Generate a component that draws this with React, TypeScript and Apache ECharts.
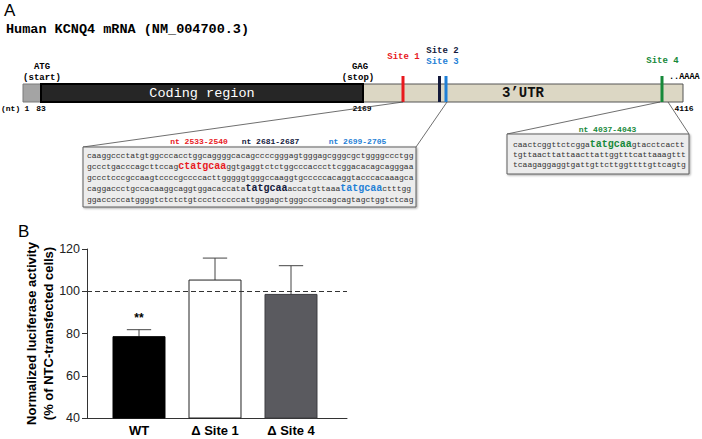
import React, { useEffect, useRef } from 'react';
import * as echarts from 'echarts';

// ---------- Panel B data ----------
const categories = ['WT', 'Δ Site 1', 'Δ Site 4'];
const meanActivity = [78.5, 105.3, 98.5];
const semActivity = [3.3, 10.4, 13.6];
const significance = ['**', '', ''];
const yTicks = [40, 60, 80, 100, 120];
const referenceLevel = 100;

// ---------- Panel A content ----------
const mrnaTitle = 'Human KCNQ4 mRNA (NM_004700.3)';
const ntLabels = ['(nt)', '1', '83', '2169', '4116'];
const siteNames = ['Site 1', 'Site 2', 'Site 3', 'Site 4'];
const siteRanges = ['nt 2533-2540', 'nt 2681-2687', 'nt 2699-2705', 'nt 4037-4043'];
// each line: list of [text, tag] ; tag 'n' = plain, 's1'..'s4' = seed match for that site
const seqBox1: [string, string][][] = [
  [['caaggccctatgtggcccacctggcaggggcacagccccgggagtgggagcgggcgctggggccctgg', 'n']],
  [['gccctgacccagcttccag', 'n'], ['ctatgcaa', 's1'], ['ggtgaggtctctggcccacccttcggacacagcagggaa', 'n']],
  [['gccctcccgccaagtccccgccccacttgggggtgggccaaggtgcccccacaggtacccacaaagca', 'n']],
  [['caggaccctgccacaaggcaggtggacaccata', 'n'], ['tatgcaa', 's2'], ['accatgttaaa', 'n'], ['tatgcaa', 's3'], ['ctttgg', 'n']],
  [['ggacccccatggggtctctctgtccctcccccattgggagctgggcccccagcagtagctggtctcag', 'n']],
];
const seqBox2: [string, string][][] = [
  [['caactcggttctcgga', 'n'], ['tatgcaa', 's4'], ['gtacctcactt', 'n']],
  [['tgttaacttattaacttattggtttcattaaagttt', 'n']],
  [['tcaagaggaggtgattgttcttggttttgttcagtg', 'n']],
];

// ---------- styles ----------
const MONO = '"Liberation Mono", "Courier New", monospace';
const SANS = '"Liberation Sans", Arial, Helvetica, sans-serif';
const siteColors = ['#e8191e', '#141a3c', '#1f7fd6', '#17893a'];
const barFills = ['#000000', '#ffffff', '#5a5a5f'];
const barStrokes = ['#000000', '#222222', '#3c3c40'];

function txt(x: number, y: number, text: string, o: any = {}) {
  return {
    type: 'text',
    x,
    y,
    silent: true,
    style: {
      text,
      fill: o.fill || '#000',
      fontFamily: o.family || MONO,
      fontSize: o.size || 9,
      fontWeight: o.weight || 'bold',
      align: o.align || 'center',
      verticalAlign: o.valign || 'middle',
    },
  };
}

function richLine(x: number, y: number, segs: [string, string][]) {
  const rich: any = {
    n: { fontFamily: MONO, fontSize: 8, fill: '#333', fontWeight: 'normal' },
  };
  siteColors.forEach((c, i) => {
    rich['s' + (i + 1)] = { fontFamily: MONO, fontSize: 10, fill: c, fontWeight: 'bold' };
  });
  return {
    type: 'text',
    x,
    y,
    silent: true,
    style: {
      text: segs.map(([t, tag]) => `{${tag}|${t}}`).join(''),
      rich,
      align: 'left',
      verticalAlign: 'middle',
    },
  };
}

function buildGraphic() {
  const g: any[] = [];
  // Panel letters & title
  g.push(txt(4, 10, 'A', { family: SANS, size: 17, weight: 'normal', align: 'left' }));
  g.push(txt(6, 29, mrnaTitle, { size: 13.5, align: 'left' }));
  g.push(txt(18, 231, 'B', { family: SANS, size: 17, weight: 'normal', align: 'left' }));

  // mRNA bar
  g.push({ type: 'rect', shape: { x: 23, y: 84, width: 18, height: 18 }, style: { fill: '#a4a4a4', stroke: '#7a7a7a', lineWidth: 1 } });
  g.push({ type: 'rect', shape: { x: 363, y: 84, width: 320, height: 18 }, style: { fill: '#dcd7c4', stroke: '#555', lineWidth: 1 } });
  g.push({ type: 'rect', shape: { x: 41, y: 84, width: 322, height: 18 }, style: { fill: '#262626', stroke: '#000', lineWidth: 2 } });
  g.push(txt(202, 93, 'Coding region', { size: 13.5, weight: 'normal', fill: '#fff' }));
  g.push(txt(523, 93, '3\u2019UTR', { size: 14, fill: '#111' }));

  g.push(txt(42, 67, 'ATG', { size: 9 }));
  g.push(txt(42, 78, '(start)', { size: 9 }));
  g.push(txt(360, 67, 'GAG', { size: 9 }));
  g.push(txt(358, 78, '(stop)', { size: 9 }));
  g.push(txt(669, 77, '..AAAA', { size: 8.5, align: 'left' }));

  // nt labels
  g.push(txt(1, 108, ntLabels[0], { size: 8, align: 'left' }));
  g.push(txt(27, 108, ntLabels[1], { size: 8 }));
  g.push(txt(41, 108, ntLabels[2], { size: 8 }));
  g.push(txt(362, 108, ntLabels[3], { size: 8 }));
  g.push(txt(684, 108, ntLabels[4], { size: 8 }));

  // site ticks
  const siteX = [403, 439.5, 446, 662];
  siteX.forEach((x, i) => {
    g.push({ type: 'line', shape: { x1: x, y1: 76, x2: x, y2: 102 }, style: { stroke: siteColors[i], lineWidth: 3 } });
  });
  g.push(txt(403.5, 57, siteNames[0], { fill: siteColors[0] }));
  g.push(txt(442.5, 51, siteNames[1], { fill: siteColors[1] }));
  g.push(txt(442.5, 62, siteNames[2], { fill: siteColors[2] }));
  g.push(txt(662.5, 61, siteNames[3], { fill: siteColors[3] }));

  // connectors
  const conn = [
    [403, 102, 83, 147],
    [447, 102, 416, 147],
    [660, 102, 507, 134],
    [668, 102, 689, 134],
  ];
  conn.forEach(([x1, y1, x2, y2]) => {
    g.push({ type: 'line', shape: { x1, y1, x2, y2 }, style: { stroke: '#4a4a4a', lineWidth: 0.8 } });
  });

  // sequence boxes
  const boxStyle = { fill: '#ececec', stroke: '#5e5e5e', lineWidth: 1, shadowBlur: 2, shadowOffsetX: 1, shadowOffsetY: 1, shadowColor: 'rgba(0,0,0,0.35)' };
  g.push({ type: 'rect', shape: { x: 83, y: 147, width: 333, height: 60 }, style: boxStyle });
  g.push({ type: 'rect', shape: { x: 507, y: 134, width: 182, height: 40 }, style: boxStyle });

  g.push(txt(199, 141, siteRanges[0], { size: 8, fill: siteColors[0] }));
  g.push(txt(270.5, 141, siteRanges[1], { size: 8, fill: siteColors[1] }));
  g.push(txt(357.5, 141, siteRanges[2], { size: 8, fill: siteColors[2] }));
  g.push(txt(607.5, 129, siteRanges[3], { size: 8, fill: siteColors[3] }));

  seqBox1.forEach((segs, i) => g.push(richLine(87, 155 + i * 11, segs)));
  seqBox2.forEach((segs, i) => g.push(richLine(513, 144 + i * 10, segs)));
  return g;
}

export default function App() {
  const ref = useRef<HTMLDivElement>(null);
  useEffect(() => {
    if (!ref.current) return;
    const chart = echarts.init(ref.current, null, { renderer: 'svg' });
    const data = categories.map((c, i) => [i + 1, meanActivity[i], semActivity[i]]);
    const yMin = yTicks[0];
    const option: any = {
      animation: false,
      backgroundColor: '#ffffff',
      grid: { left: 87, top: 249, width: 260, height: 169 },
      xAxis: {
        type: 'value',
        min: 0.3158,
        max: 3.7368,
        axisLine: { show: true, onZero: false, lineStyle: { color: '#333', width: 1 } },
        axisTick: { show: false },
        axisLabel: { show: false },
        splitLine: { show: false },
      },
      yAxis: {
        type: 'value',
        min: yTicks[0],
        max: yTicks[yTicks.length - 1],
        interval: yTicks[1] - yTicks[0],
        axisLine: { show: true, lineStyle: { color: '#333', width: 1 } },
        axisTick: { show: true, length: 5, lineStyle: { color: '#333' } },
        axisLabel: { fontFamily: SANS, fontSize: 12.5, color: '#222', margin: 7 },
        splitLine: { show: false },
        name: 'Normalized luciferase activity\n(% of NTC-transfected cells)',
        nameLocation: 'middle',
        nameRotate: 90,
        nameGap: 30,
        nameMoveOverlap: false,
        nameTextStyle: { fontFamily: SANS, fontSize: 13, fontWeight: 'bold', color: '#000', lineHeight: 17 },
      },
      series: [
        {
          type: 'custom',
          clip: false,
          data,
          renderItem: (params: any, api: any) => {
            const i = params.dataIndex;
            const x = api.value(0);
            const mean = api.value(1);
            const sem = api.value(2);
            const base = api.coord([x, yMin]);
            const top = api.coord([x, mean]);
            const errTop = api.coord([x, mean + sem]);
            const band = api.size([1, 0])[0];
            const w = band * 0.684;
            const cap = band * 0.32;
            const children: any[] = [
              {
                type: 'line',
                shape: { x1: top[0], y1: top[1], x2: errTop[0], y2: errTop[1] },
                style: { stroke: '#444', lineWidth: 1 },
              },
              {
                type: 'line',
                shape: { x1: errTop[0] - cap / 2, y1: errTop[1], x2: errTop[0] + cap / 2, y2: errTop[1] },
                style: { stroke: '#444', lineWidth: 1 },
              },
              {
                type: 'rect',
                shape: { x: top[0] - w / 2, y: top[1], width: w, height: base[1] - top[1] },
                style: { fill: barFills[i], stroke: barStrokes[i], lineWidth: 1 },
              },
              {
                type: 'text',
                x: base[0],
                y: base[1] + 12,
                style: {
                  text: categories[i],
                  fontFamily: SANS,
                  fontSize: 13,
                  fontWeight: 'bold',
                  fill: '#000',
                  align: 'center',
                  verticalAlign: 'middle',
                },
              },
            ];
            if (significance[i]) {
              children.push({
                type: 'text',
                x: errTop[0],
                y: errTop[1] - 12,
                style: {
                  text: significance[i],
                  fontFamily: SANS,
                  fontSize: 12,
                  fontWeight: 'bold',
                  fill: '#000',
                  align: 'center',
                  verticalAlign: 'middle',
                },
              });
            }
            return { type: 'group', children };
          },
          markLine: {
            silent: true,
            symbol: ['none', 'none'],
            label: { show: false },
            lineStyle: { type: [5, 3], color: '#333', width: 1 },
            data: [{ yAxis: referenceLevel }],
          },
        },
      ],
      graphic: buildGraphic(),
    };
    chart.setOption(option);
    return () => chart.dispose();
  }, []);
  return (
    <div
      ref={ref}
      style={{ position: 'fixed', left: 0, top: 0, width: 702, height: 439, background: '#fff' }}
    />
  );
}
